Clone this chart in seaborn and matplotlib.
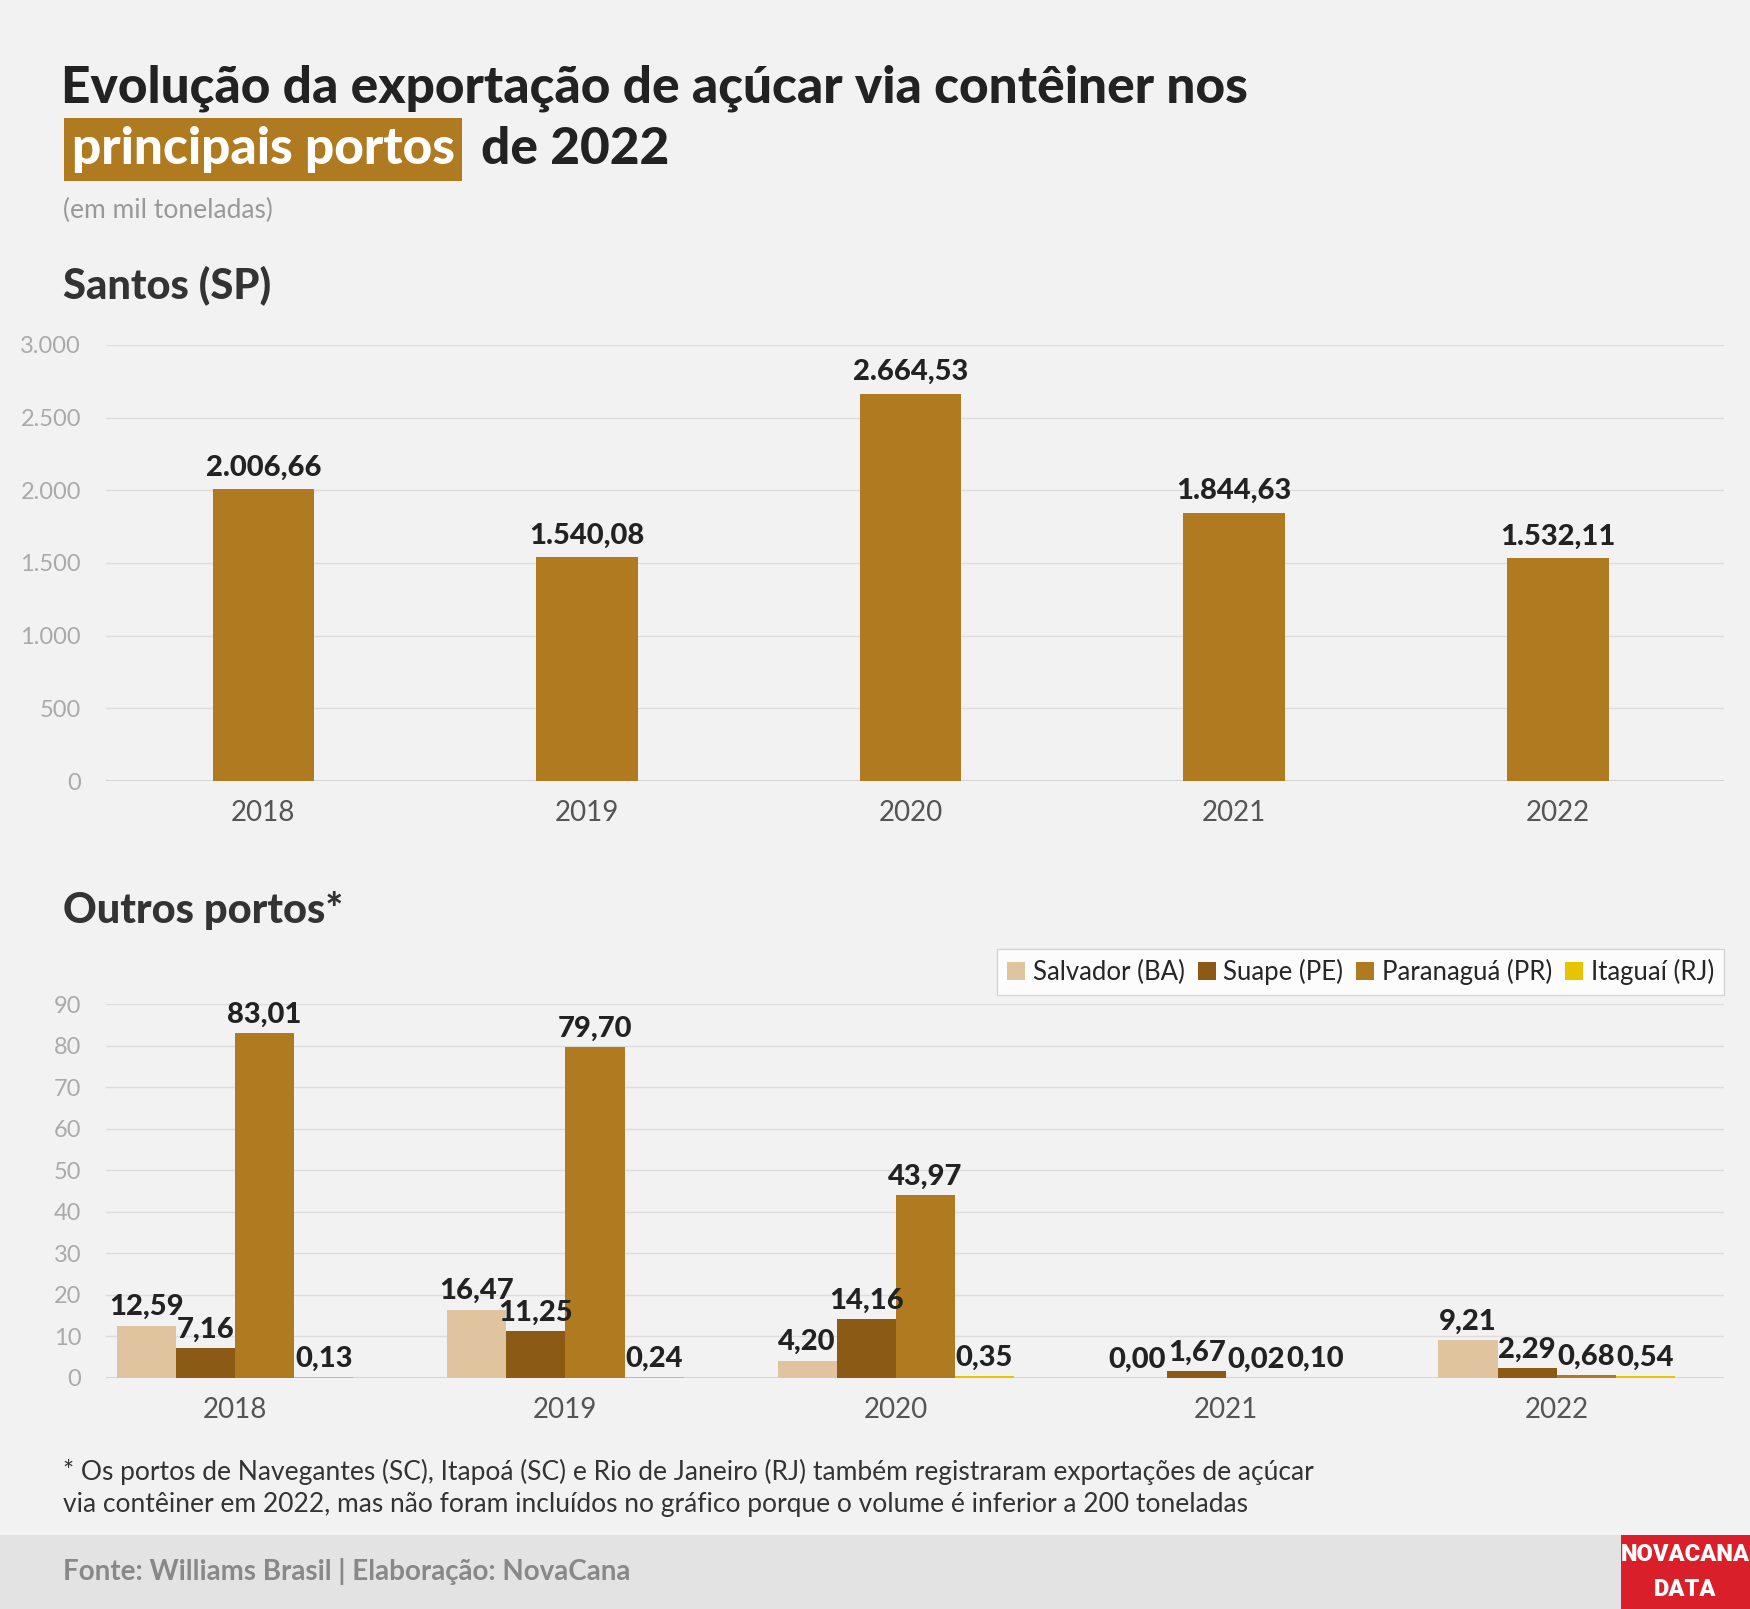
import matplotlib
matplotlib.use("Agg")
import matplotlib.pyplot as plt
import seaborn as sns
import pandas as pd
from matplotlib.patches import Rectangle, Patch

years = ["2018", "2019", "2020", "2021", "2022"]
santos = [2006.66, 1540.08, 2664.53, 1844.63, 1532.11]
ports = ["Salvador (BA)", "Suape (PE)", "Paranaguá (PR)", "Itaguaí (RJ)"]
salvador = [12.59, 16.47, 4.20, 0.00, 9.21]
suape = [7.16, 11.25, 14.16, 1.67, 2.29]
paranagua = [83.01, 79.70, 43.97, 0.02, 0.68]
itaguai = [0.13, 0.24, 0.35, 0.10, 0.54]
colors = ["#e0c49f", "#8b5a14", "#b07a21", "#e8c400"]

def br(v, d=2):
    s = f"{v:,.{d}f}"
    return s.replace(",", "X").replace(".", ",").replace("X", ".")

sns.set_style("white")
plt.rcParams['font.family'] = ['Lato', 'DejaVu Sans']
BG = "#f2f2f2"
HW = 900
fig = plt.figure(figsize=(17.5, 16.09), dpi=100, facecolor=BG)

fig.text(0.035, 0.945, "Evolução da exportação de açúcar via contêiner nos", fontsize=37,
         fontweight=HW, color="#222222", va="center")
fig.text(0.041, 0.907, "principais portos", fontsize=37, fontweight=HW, color="white", va="center",
         bbox=dict(boxstyle="square,pad=0.15", facecolor="#b07a21", edgecolor="none"))
fig.text(0.275, 0.907, "de 2022", fontsize=37, fontweight=HW, color="#222222", va="center")
fig.text(0.036, 0.869, "(em mil toneladas)", fontsize=19, color="#999999", va="center")
fig.text(0.036, 0.823, "Santos (SP)", fontsize=30, fontweight=HW, color="#333333", va="center")
fig.text(0.036, 0.434, "Outros portos*", fontsize=30, fontweight=HW, color="#333333", va="center")

def style(ax, ymax, step):
    ax.set_facecolor(BG)
    for s in ax.spines.values():
        s.set_visible(False)
    ax.set_yticks(range(0, ymax + 1, step))
    ax.set_ylim(0, ymax)
    ax.yaxis.grid(True, color="#dddddd", linewidth=1)
    ax.set_axisbelow(True)
    ax.tick_params(axis="y", length=0, labelsize=17, labelcolor="#aaaaaa", pad=18)
    ax.tick_params(axis="x", length=0, labelsize=20, labelcolor="#555555", pad=14)
    ax.set_xlabel(""); ax.set_ylabel("")

ax1 = fig.add_axes([0.0606, 0.5146, 0.9247, 0.2711])
df1 = pd.DataFrame({"ano": years, "v": santos})
sns.barplot(data=df1, x="ano", y="v", color="#b07a21", width=0.314, ax=ax1, saturation=1, linewidth=0)
style(ax1, 3000, 500)
ax1.set_yticks(range(0, 3001, 500), [br(v, 0) for v in range(0, 3001, 500)])
ax1.set_xlim(-0.486, 4.514)
for i, v in enumerate(santos):
    ax1.text(i, v + 60, br(v), ha="center", va="bottom", fontsize=21, fontweight=HW, color="#222222")

ax2 = fig.add_axes([0.0606, 0.1436, 0.9247, 0.2323])
rows = []
for p, vals in zip(ports, [salvador, suape, paranagua, itaguai]):
    for y, v in zip(years, vals):
        rows.append({"ano": y, "porto": p, "v": v})
df2 = pd.DataFrame(rows)
sns.barplot(data=df2, x="ano", y="v", hue="porto", palette=colors, width=0.716, gap=0,
            ax=ax2, saturation=1, legend=False, linewidth=0)
style(ax2, 90, 10)
ax2.set_xlim(-0.39, 4.507)
bw = 0.716 / 4
for k, vals in enumerate([salvador, suape, paranagua, itaguai]):
    for i, v in enumerate(vals):
        x = i - 0.716 / 2 + bw * (k + 0.5)
        ax2.text(x, v + 1.3, br(v), ha="center", va="bottom", fontsize=21, fontweight=HW, color="#222222")
for ax in (ax1, ax2):
    ax.axhline(0, color="#cccccc", linewidth=1.2, zorder=0.5)

handles = [Patch(facecolor=c, edgecolor="none") for c in colors]
leg = fig.legend(handles, ports, loc="upper right", bbox_to_anchor=(0.9853, 0.4105), ncol=4,
                 fontsize=18.5, frameon=True, fancybox=False, handlelength=0.7, handleheight=0.7,
                 handletextpad=0.3, columnspacing=0.5, borderpad=0.4, borderaxespad=0)
leg.get_frame().set_facecolor("white"); leg.get_frame().set_edgecolor("#cccccc")

fig.text(0.036, 0.085, "* Os portos de Navegantes (SC), Itapoá (SC) e Rio de Janeiro (RJ) também registraram exportações de açúcar",
         fontsize=19, color="#333333", va="center")
fig.text(0.036, 0.065, "via contêiner em 2022, mas não foram incluídos no gráfico porque o volume é inferior a 200 toneladas",
         fontsize=19, color="#333333", va="center")

fig.patches.append(Rectangle((0, 0), 1, 0.046, transform=fig.transFigure, facecolor="#e3e3e3", edgecolor="none", zorder=0))
fig.text(0.036, 0.023, "Fonte: Williams Brasil | Elaboração: NovaCana", fontsize=20, fontweight="bold",
         color="#888888", va="center")
fig.patches.append(Rectangle((0.926, 0), 0.074, 0.046, transform=fig.transFigure, facecolor="#d9202a", edgecolor="none", zorder=1))
fig.text(0.963, 0.034, "NOVACANA", fontsize=17, fontweight=HW, color="white", ha="center", va="center", zorder=2,
         family=["Roboto", "DejaVu Sans"], stretch="condensed")
fig.text(0.963, 0.012, "DATA", fontsize=17, fontweight=HW, color="white", ha="center", va="center", zorder=2,
         family=["Roboto", "DejaVu Sans"])

fig.savefig("out.png", dpi=100, facecolor=BG)
